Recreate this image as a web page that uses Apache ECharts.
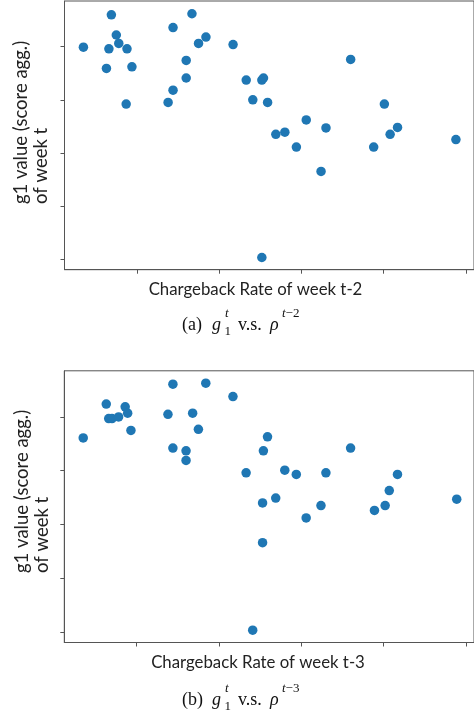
<!DOCTYPE html>
<html>
<head>
<meta charset="utf-8">
<script src="https://cdn.jsdelivr.net/npm/echarts@6/dist/echarts.min.js"></script>
<style>html,body{margin:0;padding:0;background:#fff}#c{width:474px;height:717px}</style>
</head>
<body>
<div id="c"></div>
<script>
// Panel (a): g1 value of week t vs chargeback rate of week t-2 (arbitrary units, ticks unlabeled)
const cbRateT2 = [0.35,0.69,0.75,0.78,0.66,0.88,0.63,0.94,0.87,1.44,1.67,1.75,1.84,1.60,1.60,1.44,1.38,2.17,2.33,2.52,2.54,2.41,2.59,3.60,3.06,2.69,2.80,2.94,3.30,3.24,4.01,4.17,4.08,3.88,4.88,2.52];
const g1T2 = [4.99,5.60,5.22,5.06,4.96,4.96,4.59,4.62,3.92,5.36,5.62,5.06,5.18,4.74,4.41,4.18,3.95,5.04,4.37,4.37,4.41,4.00,3.95,4.76,3.62,3.35,3.39,3.11,3.47,2.65,3.92,3.48,3.35,3.11,3.25,1.03];
// Panel (b): g1 value of week t vs chargeback rate of week t-3
const cbRateT3 = [0.35,0.63,0.66,0.70,0.78,0.86,0.89,0.93,1.44,1.84,2.17,1.38,1.68,1.75,1.44,1.60,1.60,2.59,2.54,2.33,2.80,2.94,3.30,3.60,4.17,4.07,2.53,2.69,3.06,3.24,3.89,4.02,4.89,2.53,2.41];
const g1T3 = [4.61,5.24,4.97,4.97,5.00,5.19,5.07,4.75,5.61,5.63,5.38,5.05,5.07,4.77,4.42,4.37,4.19,4.63,4.37,3.96,4.01,3.93,3.96,4.42,3.93,3.63,3.40,3.49,3.12,3.35,3.26,3.35,3.47,2.66,1.03];
const tickValues = [1,2,3,4,5];
const xLabels = ['Chargeback Rate of week t-2','Chargeback Rate of week t-3'];
const yLabel = 'g1 value (score agg.)\nof week t';
const captions = [['(a)','2'],['(b)','3']];

const zip = (a,b) => a.map((v,i)=>[v,b[i]]);
const axisCol = '#555';
const sans = 'Lato, "Open Sans", sans-serif';
const serif = '"Liberation Serif", "DejaVu Serif", serif';

function xAx(gi){
  return {gridIndex:gi,type:'value',min:0.12,max:5.1,
    axisLine:{show:true,onZero:false,lineStyle:{color:axisCol,width:1}},
    axisTick:{show:true,customValues:tickValues,length:4,lineStyle:{color:axisCol,width:1}},
    axisLabel:{show:false},splitLine:{show:false}};
}
function yAx(gi){
  return {gridIndex:gi,type:'value',min:0.8,max:5.86,
    axisLine:{show:true,onZero:false,lineStyle:{color:axisCol,width:1}},
    axisTick:{show:true,customValues:tickValues,length:4,lineStyle:{color:axisCol,width:1}},
    axisLabel:{show:false},splitLine:{show:false}};
}
function ser(i,x,y){
  return {type:'scatter',xAxisIndex:i,yAxisIndex:i,data:zip(x,y),symbol:'circle',symbolSize:9.5,
    itemStyle:{color:'#1f77b4',opacity:1},silent:true};
}
function caption(i, yMid){
  const c = captions[i];
  const base = {fill:'#111',fontFamily:serif};
  return [
    {type:'text',x:182,y:yMid,style:Object.assign({},base,{text:c[0],fontSize:18,verticalAlign:'middle'})},
    {type:'text',x:212,y:yMid,style:Object.assign({},base,{text:'g',fontSize:18,fontStyle:'italic',verticalAlign:'middle'})},
    {type:'text',x:225,y:yMid-11,style:Object.assign({},base,{text:'t',fontSize:13,fontStyle:'italic',verticalAlign:'middle'})},
    {type:'text',x:224.5,y:yMid+7,style:Object.assign({},base,{text:'1',fontSize:13,verticalAlign:'middle'})},
    {type:'text',x:238,y:yMid,style:Object.assign({},base,{text:'v.s.',fontSize:18,verticalAlign:'middle'})},
    {type:'text',x:270,y:yMid,style:Object.assign({},base,{text:'ρ',fontSize:18,fontStyle:'italic',verticalAlign:'middle'})},
    {type:'text',x:282,y:yMid-11,style:Object.assign({},base,{
      text:'{i|t}{n|−' + c[1] + '}',fontSize:13,verticalAlign:'middle',
      rich:{i:{fontStyle:'italic',fontSize:13,fontFamily:serif,fill:'#111'},n:{fontSize:13,fontFamily:serif,fill:'#111'}}})}
  ];
}
function ylab(x,y){
  return {type:'text',x:x,y:y,rotation:Math.PI/2,
    style:{text:yLabel,fontSize:18.5,fontFamily:sans,fill:'#222',textAlign:'left',verticalAlign:'top',lineHeight:20}};
}
function xlab(i,x,y){
  return {type:'text',x:x,y:y,style:{text:xLabels[i],fontSize:16.8,fontFamily:sans,fill:'#222',textAlign:'center',verticalAlign:'middle'}};
}

const chart = echarts.init(document.getElementById('c'),null,{renderer:'canvas'});
chart.setOption({
  animation:false,
  backgroundColor:'#fff',
  grid:[
    {left:64.5,top:1,width:410.9,height:268.7,show:true,borderColor:axisCol,borderWidth:1,containLabel:false},
    {left:64.3,top:370.8,width:415.8,height:271.7,show:true,borderColor:axisCol,borderWidth:1,containLabel:false}
  ],
  xAxis:[xAx(0),xAx(1)],
  yAxis:[yAx(0),yAx(1)],
  series:[ser(0,cbRateT2,g1T2),ser(1,cbRateT3,g1T3)],
  graphic:[
    ylab(11,204), ylab(12,573),
    xlab(0,255.5,290), xlab(1,258,663),
    ...caption(0,325), ...caption(1,700)
  ]
});
</script>
</body>
</html>
